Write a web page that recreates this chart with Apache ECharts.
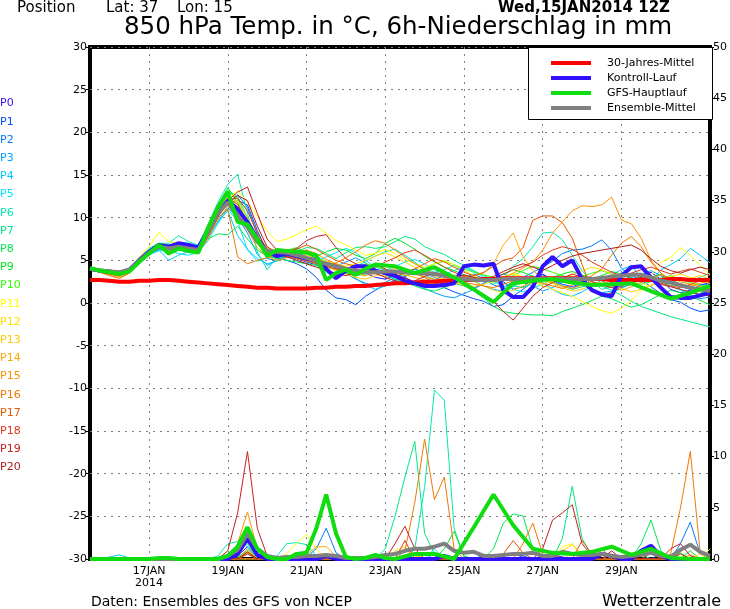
<!DOCTYPE html>
<html><head><meta charset="utf-8">
<script src="https://cdn.jsdelivr.net/npm/echarts@6/dist/echarts.min.js"></script>
<style>html,body{margin:0;padding:0;background:#fff}#c{width:730px;height:609px}</style>
</head><body><div id="c"></div>
<script>
// time categories (6-hourly) 15JAN2014 12Z .. 31JAN 06Z
const times = ['15JAN 12Z','15JAN 18Z',
 '16JAN 00Z','16JAN 06Z','16JAN 12Z','16JAN 18Z','17JAN 00Z','17JAN 06Z','17JAN 12Z','17JAN 18Z',
 '18JAN 00Z','18JAN 06Z','18JAN 12Z','18JAN 18Z','19JAN 00Z','19JAN 06Z','19JAN 12Z','19JAN 18Z',
 '20JAN 00Z','20JAN 06Z','20JAN 12Z','20JAN 18Z','21JAN 00Z','21JAN 06Z','21JAN 12Z','21JAN 18Z',
 '22JAN 00Z','22JAN 06Z','22JAN 12Z','22JAN 18Z','23JAN 00Z','23JAN 06Z','23JAN 12Z','23JAN 18Z',
 '24JAN 00Z','24JAN 06Z','24JAN 12Z','24JAN 18Z','25JAN 00Z','25JAN 06Z','25JAN 12Z','25JAN 18Z',
 '26JAN 00Z','26JAN 06Z','26JAN 12Z','26JAN 18Z','27JAN 00Z','27JAN 06Z','27JAN 12Z','27JAN 18Z',
 '28JAN 00Z','28JAN 06Z','28JAN 12Z','28JAN 18Z','29JAN 00Z','29JAN 06Z','29JAN 12Z','29JAN 18Z',
 '30JAN 00Z','30JAN 06Z','30JAN 12Z','30JAN 18Z','31JAN 00Z','31JAN 06Z'];
const tickCats = ['17JAN 00Z','19JAN 00Z','21JAN 00Z','23JAN 00Z','25JAN 00Z','27JAN 00Z','29JAN 00Z'];
const tickTexts = ['17JAN\n2014','19JAN','21JAN','23JAN','25JAN','27JAN','29JAN'];
const tempTicks = [-30,-25,-20,-15,-10,-5,0,5,10,15,20,25,30];
const precipTicks = [0,5,10,15,20,25,30,35,40,45,50];

const memberNames = ['P0','P1','P2','P3','P4','P5','P6','P7','P8','P9','P10','P11','P12','P13','P14','P15','P16','P17','P18','P19','P20'];
const memberColors = ['#3010ff','#0050ff','#0078ff','#00a0ff','#00c8ff','#00e8ff','#00e8b0','#00e880','#00e850','#00e820','#30ff00',
  '#ffff00','#ffe000','#ffc800','#ffa800','#ff9000','#f07800','#e85800','#e03818','#c82020','#b01818'];

// 850 hPa temperature of the ensemble members
const memberTemp = [
[4.0,3.7,3.6,3.4,3.8,5.0,6.2,6.8, 6.7,7.0,6.8,6.3,8.5,10.8,12.3,11.0, 9.0,7.0,5.8,5.5,5.4,5.2,4.8,4.5, 3.9,3.2,3.6,4.0,3.5,3.0,2.8,3.2,
 3.0,2.4,2.2,2.6,3.3,2.9,2.1,1.8, 2.3,3.0,2.5,1.6,1.9,2.8,3.4,2.7, 2.0,1.7,2.3,2.9,3.1,2.4,1.8,2.2, 3.0,3.6,2.8,1.6,1.2,1.5,2.1,2.4],
[4.1,3.8,3.7,3.6,4.0,5.1,6.0,6.9, 6.8,6.9,6.6,6.1,8.3,10.5,11.8,12.0, 11.5,8.5,6.0,5.3,5.0,4.6,4.0,3.0, 1.5,0.6,0.4,-0.2,0.8,1.5,2.2,2.6,
 3.1,3.6,3.0,2.4,1.8,1.3,0.9,0.5, 0.2,-0.4,-0.2,0.8,1.6,2.5,3.3,2.8, 2.2,1.9,2.4,3.0,2.6,2.1,2.5,3.2, 2.7,1.9,1.1,0.4,0.1,-0.6,-1.0,-0.8],
[4.0,3.8,3.6,3.5,3.9,5.0,6.1,6.7, 6.5,6.6,6.3,6.0,8.0,10.2,11.6,12.7, 11.2,8.0,5.2,5.0,5.4,5.6,5.8,5.2, 4.6,4.1,3.5,2.8,2.3,2.0,2.4,3.0,
 3.6,4.0,3.5,3.0,2.6,2.3,2.9,3.4, 2.8,2.1,1.8,2.5,3.0,3.6,4.2,4.9, 5.8,6.2,6.3,6.7,7.4,6.2,4.1,3.0, 2.4,2.9,3.3,2.6,1.9,1.6,2.0,2.3],
[3.9,3.7,3.6,3.4,3.8,4.8,5.7,6.3, 6.0,6.2,6.0,5.8,7.6,9.6,11.2,10.0, 8.2,5.7,4.4,5.0,5.6,5.9,6.2,5.5, 4.8,4.3,4.8,5.3,4.7,3.8,3.3,3.0,
 2.5,2.2,1.7,1.2,0.8,0.6,1.1,1.6, 2.3,2.9,3.4,3.0,2.4,2.0,1.4,1.8, 2.5,2.9,2.4,1.7,1.2,1.4,2.0,2.6, 3.3,3.8,3.2,2.5,1.6,0.9,0.5,0.7],
[4.0,3.9,3.8,3.6,3.9,4.7,5.6,6.2, 5.0,5.6,6.0,5.9,7.8,9.5,10.8,7.9, 6.3,5.2,4.6,4.9,5.6,6.4,6.0,5.3, 4.9,4.5,3.9,2.9,2.1,1.6,2.0,2.8,
 3.5,3.9,3.3,2.7,2.2,2.6,3.1,2.6, 2.0,1.6,1.4,1.9,2.6,3.2,2.4,1.6, 1.0,0.8,1.3,2.0,2.7,3.3,3.9,4.4, 3.0,2.5,3.9,4.5,5.2,6.4,5.6,4.7],
[4.1,3.9,3.8,3.7,4.0,4.9,5.7,6.1, 6.2,5.8,5.6,5.9,7.3,9.3,11.0,9.6, 6.2,4.9,5.3,5.9,5.5,5.0,4.6,4.9, 5.4,5.9,6.4,5.9,5.0,4.2,3.8,4.3,
 4.8,5.1,4.6,3.9,3.4,3.8,4.2,3.7, 3.0,2.5,2.0,1.6,1.3,1.7,2.2,2.8, 3.2,2.7,2.1,1.5,1.0,1.2,1.7,2.3, 2.8,3.2,2.7,2.0,1.5,1.2,1.0,1.3],
[4.0,3.8,3.7,3.5,4.0,5.2,6.4,7.0, 7.0,7.9,7.2,6.8,9.2,11.8,13.9,15.1, 10.5,6.0,3.9,5.4,6.1,5.7,5.2,4.4, 3.6,3.0,3.5,4.2,4.9,5.5,6.0,6.3,
 5.6,4.8,4.0,3.6,3.9,4.4,3.8,3.2, 2.6,2.2,2.9,4.3,5.2,6.6,8.2,8.3, 7.4,5.6,3.8,2.5,1.6,1.9,2.5,3.0, 3.5,2.9,2.4,2.0,2.3,2.6,3.0,3.5],
[4.0,3.8,3.7,3.5,3.9,5.0,6.0,6.8, 6.7,7.1,7.0,6.5,8.8,11.2,13.2,12.5, 10.0,7.5,5.6,5.2,5.6,6.0,6.5,6.4, 5.8,5.2,5.9,6.5,6.6,6.4,6.6,7.2,
 7.8,7.5,6.6,6.1,5.7,5.0,4.4,3.8, 3.2,2.7,2.3,2.0,1.8,2.4,3.0,2.5, 2.0,1.6,1.9,2.3,2.0,1.5,0.9,0.2, -0.4,-0.8,-1.2,-1.6,-1.9,-2.2,-2.5,-2.8],
[4.1,3.9,3.8,3.6,3.9,4.8,5.8,6.5, 6.4,6.6,6.5,6.2,7.5,8.1,8.0,9.0, 7.5,6.2,5.5,5.2,5.0,4.8,4.6,4.4, 4.2,3.9,3.5,3.2,3.4,3.7,3.3,2.8,
 2.4,2.0,1.6,1.4,1.8,2.3,2.0,1.4, 0.6,-0.4,-1.0,-1.2,-1.3,-1.4,-1.4,-1.5, -1.0,-0.6,-0.2,0.3,0.8,0.5,0.0,-0.5, -0.2,0.4,1.0,1.5,1.2,0.8,0.3,-0.2],
[4.0,3.8,3.6,3.4,3.8,4.9,6.1,6.7, 6.6,6.8,6.7,6.4,8.9,11.5,13.5,11.8, 9.4,7.0,5.7,5.8,6.0,5.6,5.1,5.5, 6.0,6.4,6.2,5.6,5.2,5.8,7.0,7.6,
 7.0,6.3,5.5,4.8,4.2,3.8,3.3,2.9, 2.6,2.9,3.4,3.9,3.6,3.1,2.7,3.0, 3.4,3.7,3.3,2.8,3.2,3.7,3.4,2.9, 2.6,3.0,3.4,2.8,2.2,1.7,1.3,1.0],
[4.0,3.8,3.7,3.5,3.9,5.0,6.2,7.0, 6.8,6.9,6.6,6.4,8.6,11.0,13.1,12.2, 9.8,7.4,6.0,5.8,6.2,6.5,6.0,5.4, 4.8,4.2,3.8,4.1,4.6,4.3,3.9,3.6,
 3.2,3.5,4.0,4.6,4.9,4.5,4.0,3.6, 3.3,3.0,2.8,3.2,3.8,4.3,4.0,3.6, 3.2,2.9,3.1,3.5,3.8,3.4,2.9,2.5, 2.2,2.5,2.9,3.2,2.8,2.4,2.1,1.8],
[4.0,3.8,3.7,3.6,4.0,5.4,6.6,8.3, 7.2,7.0,6.6,6.3,8.2,10.4,12.0,13.2, 11.8,10.2,8.4,7.2,7.5,8.0,8.6,9.0, 8.2,7.3,6.8,6.2,5.6,5.8,6.3,5.8,
 5.1,4.6,4.2,4.6,5.0,4.5,3.8,3.2, 2.7,2.4,2.9,3.5,3.0,2.5,2.0,1.6, 1.2,0.8,0.2,-0.4,-0.9,-1.2,-0.6,0.3, 1.5,3.2,4.8,5.3,6.5,5.6,4.4,3.3],
[3.9,3.7,3.5,3.3,3.8,5.0,6.0,6.7, 6.6,6.7,6.4,6.2,8.0,10.2,11.9,12.0, 10.0,7.8,6.5,6.1,6.3,6.0,5.6,5.2, 4.9,4.6,4.3,4.6,5.0,5.5,5.9,5.4,
 4.8,4.2,3.6,3.1,2.7,2.4,2.1,1.9, 2.2,2.6,3.1,3.4,3.0,2.6,2.2,2.5, 2.9,3.3,3.8,4.2,3.9,3.4,2.8,2.2, 1.8,2.1,2.6,3.1,3.4,3.0,2.6,2.3],
[4.0,3.7,3.5,3.2,3.7,4.9,6.1,6.9, 6.7,6.9,6.8,6.3,8.5,10.9,12.4,11.5, 9.2,7.2,6.0,5.6,5.9,6.2,5.8,5.0, 4.4,3.8,3.4,3.0,2.8,3.2,3.7,4.1,
 3.8,3.4,3.0,2.6,2.9,3.3,2.9,2.5, 2.0,1.5,1.2,1.5,2.0,2.4,2.7,2.3, 1.8,1.4,1.6,2.1,2.5,2.2,1.7,1.3, 1.6,2.0,2.5,2.9,2.6,2.9,3.2,2.8],
[3.9,3.6,3.3,2.9,3.5,4.7,5.9,6.5, 6.3,6.5,6.2,5.8,7.6,9.8,11.3,10.6, 8.6,6.5,5.4,5.0,5.3,5.5,5.2,4.7, 4.3,3.9,3.6,3.4,3.2,3.5,3.9,3.6,
 3.3,3.0,2.7,2.4,2.2,2.5,2.9,3.2, 3.5,4.6,6.8,8.2,5.4,3.8,2.9,2.4, 2.0,1.7,2.1,2.5,2.2,1.8,1.5,1.9, 2.4,2.9,3.3,2.9,2.5,2.2,1.9,1.7],
[4.0,3.7,3.4,3.1,3.6,4.8,5.9,6.6, 6.5,6.7,6.3,6.0,8.1,10.4,12.0,11.0, 9.0,7.0,5.8,5.5,5.7,5.9,6.2,5.8, 5.1,4.6,4.2,4.0,3.7,3.4,3.1,3.4,
 3.8,3.6,3.1,2.8,2.6,2.9,3.2,3.0, 2.7,2.5,2.9,3.5,4.1,4.8,6.2,8.2, 9.5,10.8,11.4,11.3,11.5,12.4,9.7,9.3, 7.6,5.0,3.5,2.6,2.2,2.0,2.3,2.6],
[3.9,3.6,3.2,2.9,3.5,4.6,5.7,6.4, 6.2,6.4,6.1,5.8,7.8,10.0,11.0,5.4, 4.6,5.0,5.3,5.7,5.5,5.2,4.9,4.6, 4.3,4.7,5.3,6.0,6.8,7.3,7.0,6.2,
 5.4,4.6,3.9,3.4,3.0,2.7,2.4,2.2, 2.0,1.8,2.2,2.6,3.0,2.7,2.3,2.0, 1.7,2.1,2.6,3.2,4.0,5.6,7.0,7.8, 6.6,4.8,3.5,2.6,2.1,1.8,1.5,1.3],
[4.0,3.7,3.5,3.2,3.7,4.9,6.0,6.7, 6.6,6.8,6.5,6.1,8.2,10.5,12.2,11.6, 9.4,7.1,5.9,5.6,5.9,6.3,6.8,6.3, 5.6,5.0,4.6,4.3,4.0,3.7,3.4,3.1,
 3.5,4.0,4.6,5.2,4.8,4.2,3.6,3.2, 3.6,4.3,5.0,5.3,6.5,9.7,10.2,10.2, 9.4,7.6,4.5,1.5,0.8,1.2,1.9,2.6, 3.1,2.7,2.3,2.0,1.8,2.2,2.6,2.9],
[3.9,3.6,3.4,3.2,3.6,4.8,5.9,6.6, 6.5,6.6,6.4,6.0,8.0,10.3,12.0,12.3, 10.8,8.2,6.3,5.7,5.5,5.3,5.0,4.7, 4.3,4.0,3.7,3.3,3.6,4.2,4.8,5.3,
 5.9,6.2,5.6,4.9,4.2,3.6,3.1,2.8, 2.5,2.9,3.4,3.9,4.3,4.8,5.6,6.2, 6.6,6.3,5.6,4.8,4.2,3.6,3.2,3.5, 3.9,4.2,3.8,3.4,3.7,4.0,3.6,3.2],
[4.0,3.7,3.5,3.3,3.7,4.8,5.8,6.4, 6.3,6.5,6.2,5.9,8.0,10.5,12.0,13.0, 13.6,10.5,7.5,6.2,6.0,6.4,7.3,7.8, 8.0,6.5,5.2,4.6,4.0,3.5,3.0,2.6,
 2.2,2.6,3.1,3.6,3.3,2.8,2.2,1.6, 1.0,0.2,-1.0,-2.0,-0.6,0.8,1.8,2.4, 2.9,3.4,3.0,2.5,2.1,1.8,2.2,2.7, 3.0,2.6,2.2,1.9,1.6,1.3,1.0,0.8],
[3.9,3.7,3.5,3.3,3.7,4.9,5.9,6.5, 6.4,6.6,6.3,6.0,7.9,10.1,11.8,12.6, 12.0,9.0,6.6,5.8,5.4,5.0,4.6,4.2, 3.8,3.5,3.2,3.6,4.1,4.5,4.0,3.4,
 2.9,2.5,2.2,2.0,2.4,2.9,3.3,3.0, 2.7,3.1,3.7,4.2,4.6,4.2,3.8,4.4, 5.0,5.5,5.8,6.0,6.2,6.4,6.6,6.8, 6.2,5.2,4.3,3.8,3.5,3.9,4.2,3.9]
];

// 6h precipitation of the ensemble members (mm)
const memberPrecip = [
[0,0,0,0,0,0,0,0, 0,0,0,0,0,0,0,0.3, 1.2,0.2,0,0,0,0,0,0, 0,0,0,0,0,0,0,0, 0,0,0,0,0,0,0,0, 0,0,0,0,0,0,0,0.4, 0.2,0,0,0,0,0,0,0, 0,0,0,0,0,0,0,0],
[0,0,0,0,0,0,0,0, 0,0,0,0,0,0,0,0.2, 0.8,0.1,0,0,0,0,0,0, 0.5,0,0,0,0,0,0,0, 0,0,0,0,0,0,0,0, 0,0,0,0,0.3,0,0,0, 0,0,0,0,0,0,0,0, 0,0,0.5,0,0,0,0,0],
[0,0,0,0,0,0,0,0, 0,0,0,0,0,0,0,0, 0,0,0,0,0,0,0.2,1.0, 3.0,0.6,0,0,0,0,0,0, 0,0,0,0,0,0,0,0, 0,0,0,0,0,0,0,0, 0,0,0,0,0,0,0,0, 0,0,0,0,1.5,3.6,0.5,0],
[0,0,0,0,0,0,0,0, 0,0,0,0,0,0,0,0, 0.5,0,0,0,0,0,0.3,0, 0,0,0,0,0,0,0,0, 0,0,0,0,0,0,0,0, 0.4,0,0,0,0,0,0,0, 0,0,0,0,0.6,0,0,0, 0,0,0,0,0,0,0,0],
[0,0,0.2,0.4,0.1,0,0,0, 0,0,0,0,0,0,0,0, 0.6,0,0,0,0,0,0,0, 0,0,0,0,0,0,0,0, 0,0,0.5,0,0,0,0,0, 0,0,0,0,0,0,0,0, 0,0,0,0,0,0,0,0, 0,0,0,0,0,0,0,0],
[0,0,0,0,0,0,0,0, 0,0,0,0,0,0,0,0, 1.0,0,0,0,0,0,0.4,0, 0,0,0,0,0,0,0,0, 0,0,0,1.0,0,0,0,0, 0,0,0,0,0,0,0,0, 0,0,0,0,0,0,0,0, 0.4,0,0,0,0,0,0,0],
[0,0,0,0,0,0,0,0, 0,0,0,0,0,0.3,1.5,1.7, 1.2,0.3,0,0.3,1.5,1.6,1.4,0.3, 0,0,0,0,0,0,0,0, 0,1.0,7.0,16.5,15.5,3.0,0.2,0, 0,0,0,0,0,0,0,0, 0,0,0,0,0,0,0,0, 0.5,0,0,0,0,0,0,0],
[0,0,0,0,0,0,0,0, 0,0,0,0,0,0,0,1.2, 1.5,0,0,0,0,0,0,0, 0,0,0,0,0,0,1.0,4.2, 8.0,11.5,2.5,0.5,0,0,0,0, 0,0,0,0,0,0,0,0, 2.0,7.1,2.0,0.3,0,0,0,0, 0,0,0,0,0,0,0,0],
[0,0,0,0,0,0,0,0, 0,0,0,0,0,0,0,0, 0,0,0,0,0,0,0,0, 0,0,0,0,0,0,0,0, 0,0,0,0,0,0,0,0, 0,1.0,3.5,4.4,4.2,1.0,0.2,0, 0,0,0,0,0,0,0,0, 1.5,3.8,0.8,0,0,0,0,0],
[0,0,0,0,0,0,0,0, 0,0,0,0,0,0,0,0, 0.7,0,0,0,0,0,0,0, 0,0,0,0,0,0,0,0, 0,0,0,0,1.0,2.7,0.3,0, 0,0,0,0,0,0,0,0, 0,0,0,0,0,0,0,0, 0,0,0,0,0,0.8,0,0],
[0,0,0,0,0,0,0,0, 0,0,0,0,0,0,0,0, 2.0,0.5,0,0,0,0,0,0, 0.3,0,0,0,0,0,0,0, 0,0,0,0,0,0,0,0, 0,0,0,0,0,0,0,0, 0,0,0,0,0,0,0,0, 0,0,0,0,0.6,0,0,0],
[0,0,0,0,0,0,0,0, 0,0,0,0,0,0,0,0, 0.8,0,0,0,0.5,1.5,2.4,1.0, 0,0,0,0,0,0,0,0, 0,0,0,0,0,0,0,0, 0,0,0,0,0,0,0,0, 1.2,1.5,0,0,0,0,0,0, 0,0,0,0,0,0,0,1.0],
[0,0,0,0,0,0,0,0, 0,0,0,0,0,0,0,0, 0,0,0,0,0,0,0,0, 0,0,0,0,0,0,0,0.8, 1.2,0.3,0,0,0,0,0,0, 0,0,0,0,0,0,0,0, 0,0.6,0,0,0,0,0,0, 0,0,0,0,0,0,0.5,0],
[0,0,0,0,0,0,0,0, 0,0,0,0,0,0,0,0, 0.6,0,0,0,0,0,0,0.3, 0,0,0,0,0,0,0,0, 0,0.5,0,0,0,0,0,0, 0,0,0,0,0,0,0,0, 0.8,1.4,0.5,0,0,0,0,0, 0,0,0,0,0,0,0,0],
[0,0,0,0,0,0,0,0, 0,0,0,0,0,0,0,0, 1.0,0,0,0,0,0,0.4,1.2, 1.2,0.3,0,0,0,0,0,0, 0.3,1.0,0,0,0,0,0,0, 0,0,0,0,0,0,0,0, 0,0,0,0,0,0.5,0,0, 0,0,0,0,0,0,0,0],
[0,0,0,0,0,0,0,0, 0,0,0,0,0,0,0,1.5, 4.6,1.0,0,0,0,0,0,0, 0,0,0,0,0,0,0,0, 0,0,0,0,0,0.3,0,0, 0,0,0,0,0,0,0,0, 0,0,0,0,0,0,0,0, 0,0,0,0,0,0.4,0,0],
[0,0,0,0,0,0,0,0, 0,0,0,0,0,0,0,0, 0,0,0,0,0,0,0,0, 0,0,0,0,0,0,0,0, 0.8,5.5,11.7,5.8,8.0,1.0,0,0, 0,0,0,0,1.5,3.5,0.5,0, 0,0,0,0,0,0,0,0, 0,0,0,0.5,5.0,10.5,0.6,0.2],
[0,0,0,0,0,0,0,0, 0,0,0,0,0,0,0,0, 0,0,0,0,0,0,0,0, 0.3,0,0,0,0,0,0,0, 0,0,0,0,0,0,0,0, 0,0,0.5,1.8,0.6,0,0,0, 0,0,1.8,0.5,1.0,0,0,0, 0,0,0,0,0,0,0,0],
[0,0,0,0,0,0,0,0, 0,0,0,0,0,0,0,0, 0.5,0,0,0,0,0,0,0, 0,0,0,0,0,0,0,0, 1.8,0,0,0,0,0,0,0, 0,0,0,0,0,0,0,0.5, 0,0,0,0,0,0,0,0, 0,0.6,0,0,0,0,0,0],
[0,0,0,0,0,0,0,0, 0,0,0,0,0,0,0.8,4.5, 10.5,3.0,0.3,0,0,0,0,0, 0,0,0,0,0,0,0,1.5, 3.2,1.0,0,0,0,0,0,0, 0,0,0,0,0,0,1.0,3.8, 4.5,5.3,1.5,0.3,0,0,0,0, 0,0,0,1.0,1.5,0.3,0,0],
[0,0,0,0,0,0,0,0, 0,0,0,0,0,0,0,0, 0.7,0,0,0,0,0,0,0, 0.2,0,0,0,0,0,0,0, 0,0,0,0,0,0,0,0, 0,0,0,0,0,0,0,0, 0,0,0,0,0,0.8,0,0, 0,0,0,0,0.5,0,0,0]
];

// 30-year climatology (850 hPa temperature)
const climTemp = [2.7,2.7,2.6,2.5,2.5,2.6,2.6,2.7, 2.7,2.6,2.5,2.4,2.3,2.2,2.1,2.0, 1.9,1.8,1.8,1.7,1.7,1.7,1.7,1.8,
 1.8,1.9,1.9,2.0,2.0,2.1,2.2,2.3, 2.3,2.4,2.5,2.5,2.6,2.6,2.7,2.7, 2.8,2.8,2.9,2.9,2.9,2.9,2.9,2.9,
 2.9,2.9,2.9,2.8,2.8,2.7,2.7,2.7, 2.7,2.7,2.7,2.8,2.8,2.7,2.7,2.7];
// control run
const controlTemp = [4.0,3.8,3.7,3.5,3.9,5.0,6.0,6.8, 6.6,7.0,6.8,6.5,8.5,10.5,12.0,11.0, 9.5,7.5,6.0,5.5,5.8,5.5,5.2,5.0,
 4.0,2.9,3.8,4.3,4.3,3.8,3.5,3.2, 2.6,2.3,2.0,2.0,2.1,2.3,4.3,4.5, 4.4,4.6,1.5,0.7,0.7,1.9,4.3,5.4,
 4.3,5.0,2.8,1.5,1.0,0.8,3.2,4.2, 4.3,3.0,1.8,0.7,0.6,0.6,0.9,1.2];
const controlPrecip = [0,0,0,0,0,0,0,0, 0,0,0,0,0,0,0,0.5, 2.0,0.4,0,0,0,0,0,0, 0.3,0,0,0,0,0,0,0,
 0,0,0,0,0.3,0,0,0, 0,0,0,0,0,0,0,0, 0,0,0,0,0.5,0.3,0,0, 0.8,1.3,0.3,0,0,0,0,0];
// GFS operational run (12-hourly after day 8)
const gfsTemp = [4.1,3.8,3.6,3.4,3.7,4.8,5.8,6.8, 5.8,6.4,6.1,5.9,8.8,11.2,13.0,9.5, 9.2,7.5,5.5,6.2,6.1,6.0,5.9,5.6,
 2.7,3.5,3.9,3.3,4.0,4.5,4.4,4.3, null,3.5,null,4.2,null,3.0,null,1.6, null,0.1,null,2.3,null,2.6,null,2.8,
 null,2.4,null,2.1,null,2.2,null,2.3, null,1.4,null,0.5,null,1.2,null,2.0];
const gfsPrecip = [0,0,0,0,0,0,0,0.1, 0.1,0,0,0,0,0,0.3,1.2, 3.1,1.0,0.2,0,0,0.5,0.6,3.0,
 6.3,2.5,0.2,0,0.1,0.4,0.1,0, null,0.5,null,0.5,null,0.0,null,3.1, null,6.3,null,3.3,null,1.0,null,0.6,
 null,0.5,null,0.7,null,1.2,null,0.4, null,1.0,null,0.1,null,0.0,null,0.0];
// ensemble mean
const meanTemp = [4.0,3.8,3.7,3.6,3.9,4.9,5.9,6.6, 6.4,6.6,6.4,6.2,8.3,10.5,11.8,10.2, 8.9,7.2,6.1,6.0,5.9,5.6,5.3,4.9,
 4.6,4.3,4.0,3.8,3.6,3.6,3.7,3.7, 3.6,3.5,3.5,3.4,3.2,3.0,2.8,2.7, 2.7,2.7,2.8,2.8,2.8,2.8,2.8,2.8,
 2.8,2.8,2.8,2.8,2.9,3.1,3.2,3.3, 3.3,3.0,2.6,2.4,2.1,1.8,1.6,1.4];
const meanPrecip = [0,0,0,0,0,0,0,0, 0,0,0,0,0,0,0.3,0.9, 2.5,1.0,0.3,0.1,0.2,0.2,0.3,0.3,
 0.4,0.3,0.1,0.1,0.1,0.2,0.4,0.5, 0.8,1.0,1.0,1.2,1.5,0.8,0.6,0.7, 0.3,0.3,0.4,0.5,0.5,0.6,0.3,0.3,
 0.7,0.5,0.4,0.4,0.5,0.3,0.2,0.3, 0.4,0.6,0.3,0.2,0.9,1.4,0.7,0.3];

const FONT = 'DejaVu Sans';
const chart = echarts.init(document.getElementById('c'), null, {renderer: 'canvas'});

const series = [];
memberNames.forEach((n, k) => {
  series.push({type: 'line', name: n, data: memberTemp[k], yAxisIndex: 0, symbol: 'none', silent: true,
    color: memberColors[k], lineStyle: {width: 1, color: memberColors[k]}, z: 2});
  series.push({type: 'line', name: n, data: memberPrecip[k], yAxisIndex: 1, symbol: 'none', silent: true,
    color: memberColors[k], lineStyle: {width: 1, color: memberColors[k]}, z: 2});
});
function thick(name, data, axis, color, z) {
  return {type: 'line', name: name, data: data, yAxisIndex: axis, symbol: 'none', silent: true, connectNulls: true,
    color: color, lineStyle: {width: 4, color: color}, z: z};
}
series.push(thick('30-Jahres-Mittel', climTemp, 0, '#ff0000', 3));
series.push(thick('Kontroll-Lauf', controlTemp, 0, '#3010ff', 4));
series.push(thick('Kontroll-Lauf', controlPrecip, 1, '#3010ff', 4));
series.push(thick('Ensemble-Mittel', meanTemp, 0, '#808080', 5));
series.push(thick('Ensemble-Mittel', meanPrecip, 1, '#808080', 5));
series.push(thick('GFS-Hauptlauf', gfsTemp, 0, '#10dd10', 6));
series.push(thick('GFS-Hauptlauf', gfsPrecip, 1, '#10dd10', 6));

const labelGraphics = memberNames.map((n, k) => ({
  type: 'text', left: 0, top: 98 + k * 18.2,
  style: {text: n, fill: memberColors[k], font: '11px "' + FONT + '"'}
}));

function txt(text, pos, size, weight) {
  return Object.assign({text: text, padding: 0,
    textStyle: {fontSize: size, fontWeight: weight || 'normal', color: '#000', fontFamily: FONT}}, pos);
}

chart.setOption({
  animation: false,
  backgroundColor: '#fff',
  textStyle: {fontFamily: FONT},
  title: [
    txt('Position', {left: 17, top: 1}, 15),
    txt('Lat: 37', {left: 106, top: 1}, 15),
    txt('Lon: 15', {left: 177, top: 1}, 15),
    txt('Wed,15JAN2014 12Z', {right: 60, top: 1}, 15, 'bold'),
    txt('850 hPa Temp. in °C, 6h-Niederschlag in mm', {left: 124, top: 15}, 24.5),
    txt('Daten: Ensembles des GFS von NCEP', {left: 91, top: 595}, 14),
    txt('Wetterzentrale', {right: 9, top: 594}, 16)
  ],
  grid: {left: 90, right: 18, top: 47, bottom: 50, show: true, borderColor: '#000', borderWidth: 4, backgroundColor: 'transparent'},
  legend: {
    data: ['30-Jahres-Mittel', 'Kontroll-Lauf', 'GFS-Hauptlauf', 'Ensemble-Mittel'],
    orient: 'vertical', left: 551, top: 57, padding: 0, itemGap: 3,
    icon: 'rect', itemWidth: 40, itemHeight: 4, selectedMode: false, z: 10,
    textStyle: {fontSize: 11, color: '#000', fontFamily: FONT, lineHeight: 12, padding: [0, 0, 0, 11]}
  },
  graphic: [
    {type: 'rect', left: 528, top: 47, z: 9, shape: {width: 184, height: 72},
      style: {fill: '#fff', stroke: '#000', lineWidth: 1}},
    ...labelGraphics
  ],
  xAxis: {
    type: 'category', data: times, boundaryGap: false,
    axisLine: {show: false}, axisTick: {show: false},
    axisLabel: {interval: (i, v) => tickCats.includes(v),
      formatter: v => tickTexts[tickCats.indexOf(v)] || '',
      color: '#000', fontSize: 11, fontFamily: FONT, margin: 6, lineHeight: 12},
    splitLine: {show: true, interval: (i, v) => tickCats.includes(v),
      lineStyle: {color: '#808080', width: 1, type: [2, 5]}}
  },
  yAxis: [
    {type: 'value', min: tempTicks[0], max: tempTicks[tempTicks.length - 1], interval: 5, position: 'left',
      axisLine: {show: false}, axisTick: {show: true, length: 4, lineStyle: {color: '#000'}},
      axisLabel: {color: '#000', fontSize: 11, fontFamily: FONT, margin: 3},
      splitLine: {show: true, lineStyle: {color: '#808080', width: 1, type: [2, 5]}}},
    {type: 'value', min: precipTicks[0], max: precipTicks[precipTicks.length - 1], interval: 5, position: 'right',
      axisLine: {show: false}, axisTick: {show: true, length: 4, lineStyle: {color: '#000'}},
      axisLabel: {color: '#000', fontSize: 11, fontFamily: FONT, margin: 3},
      splitLine: {show: false}}
  ],
  series: series
});
</script></body></html>
